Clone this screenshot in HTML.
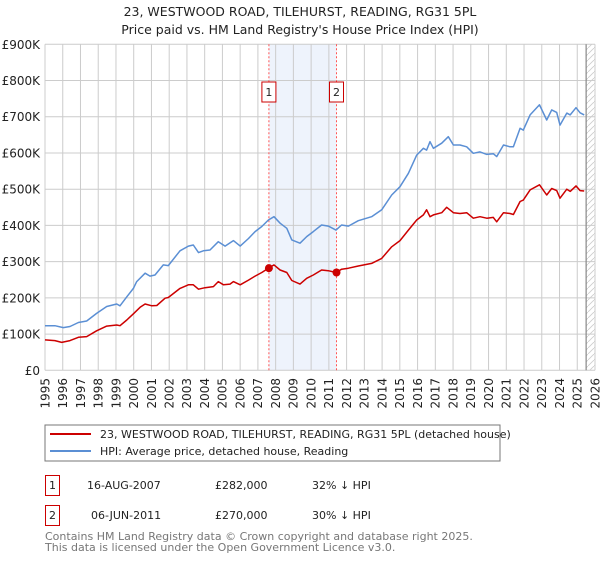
<!DOCTYPE html>
<html><head><meta charset="utf-8"><style>
body{margin:0;background:#fff;font-family:"Liberation Sans","DejaVu Sans",sans-serif}
svg text{font-family:"DejaVu Sans","Liberation Sans",sans-serif}
</style></head><body>
<svg id="c" width="600" height="560" xmlns="http://www.w3.org/2000/svg">
<defs><pattern id="h" width="6" height="6" patternUnits="userSpaceOnUse"><path d="M0,6 L6,0" stroke="#ccc" stroke-width="0.8"/></pattern></defs>
<text x="300" y="16" text-anchor="middle" font-size="12.5" fill="#222">23, WESTWOOD ROAD, TILEHURST, READING, RG31 5PL</text>
<text x="300" y="34" text-anchor="middle" font-size="12.5" fill="#222">Price paid vs. HM Land Registry's House Price Index (HPI)</text>
<g id="plot"></g>
<g>
<rect x="45" y="425" width="455" height="36" fill="#fff" stroke="#777"/>
<line x1="50" y1="434" x2="91" y2="434" stroke="#cc0000" stroke-width="2"/>
<text x="100" y="438" font-size="11" fill="#222">23, WESTWOOD ROAD, TILEHURST, READING, RG31 5PL (detached house)</text>
<line x1="50" y1="451" x2="91" y2="451" stroke="#5b8fd4" stroke-width="2"/>
<text x="100" y="455" font-size="11" fill="#222">HPI: Average price, detached house, Reading</text>
</g>
<g font-size="11" fill="#222">
<rect x="45.5" y="475.5" width="14" height="20" fill="#fff" stroke="#cc0000"/>
<text x="52.5" y="489" text-anchor="middle">1</text>
<text x="87" y="489">16-AUG-2007</text>
<text x="215" y="489">£282,000</text>
<text x="312" y="489">32% ↓ HPI</text>
<rect x="45.5" y="505.5" width="14" height="20" fill="#fff" stroke="#cc0000"/>
<text x="52.5" y="519" text-anchor="middle">2</text>
<text x="91" y="519">06-JUN-2011</text>
<text x="215" y="519">£270,000</text>
<text x="312" y="519">30% ↓ HPI</text>
</g>
<text x="45" y="540" font-size="11" fill="#777">Contains HM Land Registry data © Crown copyright and database right 2025.</text>
<text x="45" y="551" font-size="11" fill="#777">This data is licensed under the Open Government Licence v3.0.</text>
</svg>
<script>
const hpiYears=[1995.0,1995.56,1996.03,1996.41,1996.88,1997.35,1997.91,1998.48,1999.04,1999.23,1999.61,1999.98,2000.17,2000.64,2000.92,2001.2,2001.67,2001.95,2002.61,2003.08,2003.36,2003.65,2003.93,2004.3,2004.77,2005.15,2005.62,2006.0,2006.47,2006.84,2007.22,2007.59,2007.91,2008.25,2008.63,2008.91,2009.37,2009.75,2010.12,2010.59,2010.97,2011.4,2011.72,2012.1,2012.66,2013.41,2013.98,2014.54,2015.01,2015.48,2015.95,2016.33,2016.51,2016.7,2016.89,2017.36,2017.73,2018.02,2018.39,2018.77,2019.14,2019.52,2019.9,2020.27,2020.46,2020.84,2021.21,2021.4,2021.78,2021.96,2022.34,2022.87,2023.28,2023.56,2023.84,2024.03,2024.41,2024.6,2024.93,2025.16,2025.39];
const hpiValues=[123,123,118,121,132,136,157,176,183,178,203,226,245,268,260,263,291,289,330,343,346,325,330,332,355,343,358,343,364,383,397,415,424,406,392,360,351,369,383,401,398,387,401,398,413,424,443,484,507,544,594,613,608,631,613,627,645,622,622,617,599,603,596,598,590,622,617,617,668,663,705,733,691,719,712,677,710,705,725,711,705];
const ppYears=[1995.0,1995.56,1995.94,1996.41,1996.88,1997.35,1997.91,1998.48,1999.04,1999.23,1999.61,1999.98,2000.36,2000.64,2001.02,2001.3,2001.77,2001.95,2002.61,2003.08,2003.36,2003.65,2004.02,2004.49,2004.77,2005.06,2005.43,2005.62,2006.0,2006.47,2006.84,2007.22,2007.59,2007.91,2008.25,2008.63,2008.91,2009.37,2009.75,2010.12,2010.59,2010.97,2011.4,2011.72,2012.1,2012.66,2013.41,2013.98,2014.54,2015.01,2015.48,2015.95,2016.33,2016.51,2016.7,2016.89,2017.36,2017.64,2018.02,2018.39,2018.77,2019.14,2019.52,2019.9,2020.27,2020.46,2020.84,2021.21,2021.4,2021.78,2021.96,2022.34,2022.87,2023.28,2023.56,2023.84,2024.03,2024.41,2024.6,2024.93,2025.16,2025.39];
const ppValues=[84,82,77,82,91,93,109,122,125,123,139,156,174,183,178,179,199,201,226,236,236,224,228,231,245,236,238,245,236,249,260,270,282,291,277,270,248,238,254,263,277,275,270,279,282,288,295,309,341,358,387,415,429,443,424,429,435,450,435,433,435,420,424,420,422,410,435,433,430,466,470,498,512,484,502,496,475,500,494,509,496,495];
const saleYears=[2007.62,2011.43];
const saleValues=[282,270];
const saleLabels=["1","2"];
const yTicks=[0,100,200,300,400,500,600,700,800,900];
const yTickLabels=["£0","£100K","£200K","£300K","£400K","£500K","£600K","£700K","£800K","£900K"];
const xTicks=[1995,1996,1997,1998,1999,2000,2001,2002,2003,2004,2005,2006,2007,2008,2009,2010,2011,2012,2013,2014,2015,2016,2017,2018,2019,2020,2021,2022,2023,2024,2025,2026];
const dataEnd=2025.5;

const NS="http://www.w3.org/2000/svg";
const L=45,R=595,T=44.3,B=370.3;
const X=y=>L+(y-1995)/(2026-1995)*(R-L);
const Y=v=>B-v/900*(B-T);
const g=document.getElementById('plot');
function mk(tag,attrs,parent){const e=document.createElementNS(NS,tag);for(const k in attrs)e.setAttribute(k,attrs[k]);(parent||g).appendChild(e);return e;}

let e=mk('rect',{x:X(saleYears[0]),y:T,width:X(saleYears[1])-X(saleYears[0]),height:B-T,fill:'#eef3fc'});


e=mk('rect',{x:X(dataEnd),y:T,width:R-X(dataEnd),height:B-T,fill:'url(#h)'});


yTicks.forEach((t,i)=>{
  let l=mk('line',{x1:L,x2:R,y1:Y(t),y2:Y(t),stroke:'#ccc','stroke-width':1});
  
  
  let tx=mk('text',{x:40,y:Y(t)+4.5,'text-anchor':'end','font-size':12,fill:'#222'});
  tx.textContent=yTickLabels[i];
  
  
});
xTicks.forEach(t=>{
  let l=mk('line',{x1:X(t),x2:X(t),y1:T,y2:B,stroke:'#ccc','stroke-width':1});
  
  
  let tx=mk('text',{x:0,y:0,'text-anchor':'end','font-size':12,fill:'#222',transform:`translate(${X(t)+4.3},378) rotate(-90)`});
  tx.textContent=t;
  
  
});
e=mk('line',{x1:X(dataEnd),x2:X(dataEnd),y1:T,y2:B,stroke:'#888','stroke-width':1.2});


saleYears.forEach((s,i)=>{
  let l=mk('line',{x1:X(s),x2:X(s),y1:T,y2:B,stroke:'#ff5555','stroke-width':1,'stroke-dasharray':'2,2'});
  
  
  let r=mk('rect',{x:X(s)-7,y:82,width:14,height:20,fill:'#fff',stroke:'#cc0000'});
  
  
  let tx=mk('text',{x:X(s),y:96,'text-anchor':'middle','font-size':11,fill:'#222'});
  tx.textContent=saleLabels[i];
  
  
});
function line(xs,vs,col){return mk('polyline',{points:xs.map((x,i)=>X(x).toFixed(1)+','+Y(vs[i]).toFixed(1)).join(' '),fill:'none',stroke:col,'stroke-width':1.5,'stroke-linejoin':'round'});}
e=line(hpiYears,hpiValues,'#5b8fd4');


e=line(ppYears,ppValues,'#cc0000');


saleYears.forEach((s,i)=>{
  let c=mk('circle',{cx:X(s),cy:Y(saleValues[i]),r:4,fill:'#cc0000'});
  
  
});
</script>
</body></html>
